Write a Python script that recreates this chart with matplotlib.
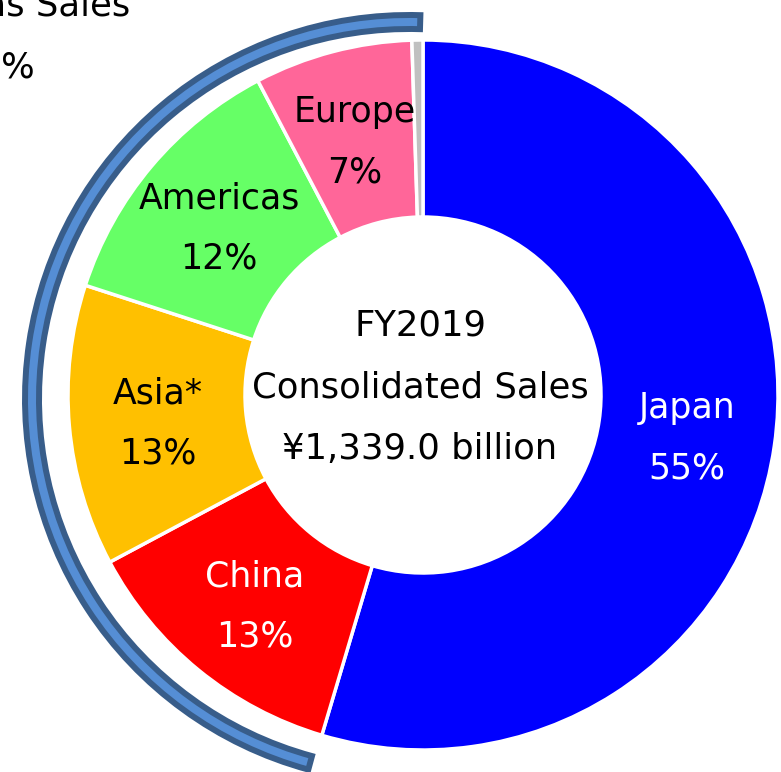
import numpy as np
import matplotlib
matplotlib.use("Agg")
import matplotlib.pyplot as plt
from matplotlib.patches import Wedge

# sales share by region, FY2019 (%)
regions = ["Japan", "China", "Asia*", "Americas", "Europe", ""]
shares = [54.6, 12.6, 12.8, 12.3, 7.2, 0.5]
pct_labels = ["55%", "13%", "13%", "12%", "7%", ""]
colors = ["#0000FF", "#FF0000", "#FFC000", "#66FF66", "#FF6699", "#C0C0C0"]
text_colors = ["white", "white", "black", "black", "black", "black"]
center_lines = ["FY2019", "Consolidated Sales", "\u00a51,339.0 billion"]
overseas_lines = ["Overseas Sales", "45%"]

plt.rcParams['font.family'] = ['DejaVu Sans']

fig = plt.figure(figsize=(7.81, 7.72), dpi=100)
ax = fig.add_axes([0, 0, 1, 1])

cx, cy = 423, 377
R = 355
ring = 177

wedges, _ = ax.pie(shares, colors=colors, startangle=90, counterclock=False,
                   center=(cx, cy), radius=R,
                   wedgeprops=dict(width=ring, edgecolor='white', linewidth=2.5))

# labels at the middle of the ring
for w, name, pct, tc in zip(wedges, regions, pct_labels, text_colors):
    if not name:
        continue
    ang = np.deg2rad((w.theta1 + w.theta2) / 2)
    r = R - ring / 2
    x = cx + r * np.cos(ang)
    y = cy + r * np.sin(ang)
    ax.text(x, y + 25, name, ha='center', va='center', fontsize=25, color=tc)
    ax.text(x, y - 35, pct, ha='center', va='center', fontsize=25, color=tc)

# centre text
for i, line in enumerate(center_lines):
    ax.text(cx - 3, cy + 70 - i * 62, line, ha='center', va='center', fontsize=25.5, color='black')

# bracket arc for overseas sales
arc = Wedge((409, 373), 384, 88.3, 254.8, width=14,
            facecolor='#558ED5', edgecolor='#385D8A', linewidth=4.3)
ax.add_patch(arc)

ax.text(130, 757, overseas_lines[0], ha='right', va='baseline', fontsize=25.5)
ax.text(35, 694, overseas_lines[1], ha='right', va='baseline', fontsize=25.5)

ax.set_xlim(0, 781)
ax.set_ylim(0, 772)
ax.set_aspect('auto')
ax.axis('off')

fig.savefig("out.png", dpi=100)
